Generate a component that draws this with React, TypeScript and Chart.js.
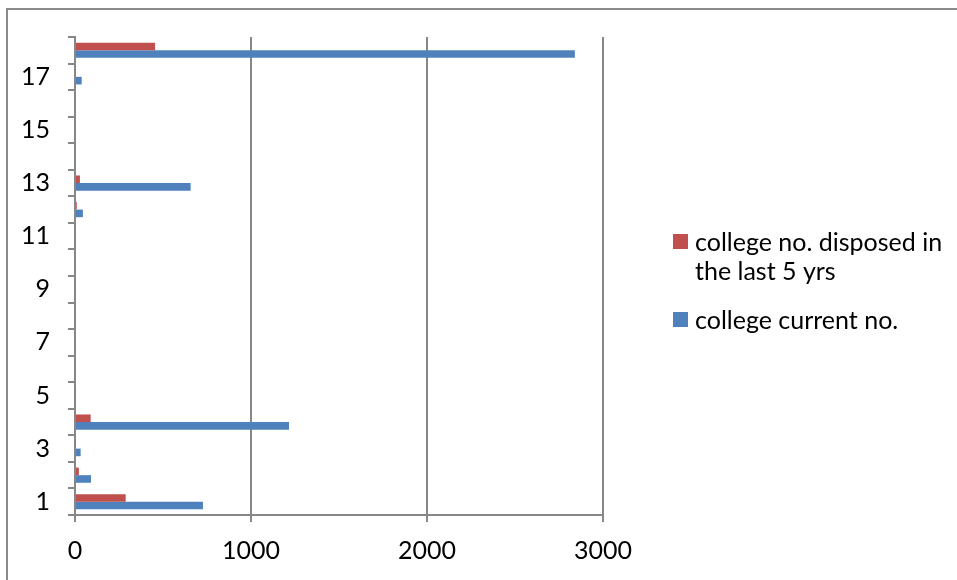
import React, { useEffect, useRef } from "react";
import { Chart, registerables } from "chart.js";

Chart.register(...registerables);

const categories = ["1","2","3","4","5","6","7","8","9","10","11","12","13","14","15","16","17","18"];
const currentNo = [727, 91, 32, 1216, 5, 5, 5, 5, 5, 5, 5, 45, 657, 0, 5, 0, 38, 2840];
const disposedNo = [288, 22, 4, 89, 4, 0, 0, 0, 0, 0, 0, 10, 28, 0, 0, 0, 0, 455];
const disposedLabel = ["college no. disposed in", "the last 5 yrs"];
const currentLabel = ["college current no."];
const xTicks = [0, 1000, 2000, 3000];

const BLUE = "#4F81BD";
const RED = "#C0504D";
const GRID = "#878787";
const FONT = "Lato";
const FSIZE = 25;

const legendPlugin = {
  id: "excelLegend",
  afterDraw(chart: any) {
    const ctx = chart.ctx;
    ctx.save();
    ctx.font = `${FSIZE}px ${FONT}`;
    ctx.textBaseline = "middle";
    ctx.textAlign = "left";
    const items = [
      { color: RED, lines: disposedLabel, y: 243 },
      { color: BLUE, lines: currentLabel, y: 321 },
    ];
    items.forEach((it) => {
      ctx.fillStyle = it.color;
      ctx.fillRect(673, it.y - 9, 15, 15);
      ctx.fillStyle = "#000";
      it.lines.forEach((ln, i) => {
        ctx.fillText(ln, 695, it.y + i * 29);
      });
    });
    ctx.restore();
  },
};

export default function App() {
  const ref = useRef<HTMLCanvasElement | null>(null);
  useEffect(() => {
    document.body.style.margin = "0";
    const chart = new Chart(ref.current!, {
      type: "bar",
      data: {
        labels: categories,
        datasets: [
          {
            label: disposedLabel.join(" "),
            data: disposedNo,
            backgroundColor: RED,
            categoryPercentage: 0.572,
            barPercentage: 1,
          },
          {
            label: currentLabel.join(" "),
            data: currentNo,
            backgroundColor: BLUE,
            categoryPercentage: 0.572,
            barPercentage: 1,
          },
        ],
      },
      options: {
        indexAxis: "y",
        animation: false,
        responsive: false,
        maintainAspectRatio: false,
        layout: { padding: { top: 37, right: 354, left: 0, bottom: 0 } },
        plugins: {
          legend: { display: false },
          tooltip: { enabled: false },
        },
        scales: {
          x: {
            min: 0,
            max: 3000,
            afterBuildTicks: (s: any) => {
              s.ticks = xTicks.map((v) => ({ value: v }));
            },
            afterFit: (s: any) => {
              s.height = 65;
            },
            grid: {
              color: GRID,
              lineWidth: 2,
              tickLength: 7,
              drawTicks: true,
            },
            border: { color: GRID, width: 2 },
            ticks: {
              color: "#000",
              font: { family: FONT, size: FSIZE },
              padding: 14,
              maxRotation: 0,
              callback: (v: any) => String(v),
            },
          },
          y: {
            reverse: true,
            afterFit: (s: any) => {
              s.width = 75;
            },
            grid: {
              drawOnChartArea: false,
              drawTicks: true,
              offset: true,
              color: GRID,
              lineWidth: 2,
              tickLength: 7,
            },
            border: { color: GRID, width: 2 },
            ticks: {
              autoSkip: false,
              color: "#000",
              font: { family: FONT, size: FSIZE },
              padding: 18,
              callback: (_v: any, i: number) => (i % 2 === 0 ? categories[i] : ""),
            },
          },
        },
      },
      plugins: [legendPlugin],
    });
    return () => chart.destroy();
  }, []);
  return (
    <div style={{ position: "relative", width: 957, height: 580, overflow: "hidden", background: "#fff" }}>
      <canvas ref={ref} width={957} height={580} style={{ position: "absolute", left: 0, top: 0 }} />
      <div
        style={{
          position: "absolute",
          left: 6,
          top: 8,
          width: 1000,
          height: 1000,
          borderLeft: "2px solid #8a8a8a",
          borderTop: "2px solid #8a8a8a",
          pointerEvents: "none",
        }}
      />
    </div>
  );
}
